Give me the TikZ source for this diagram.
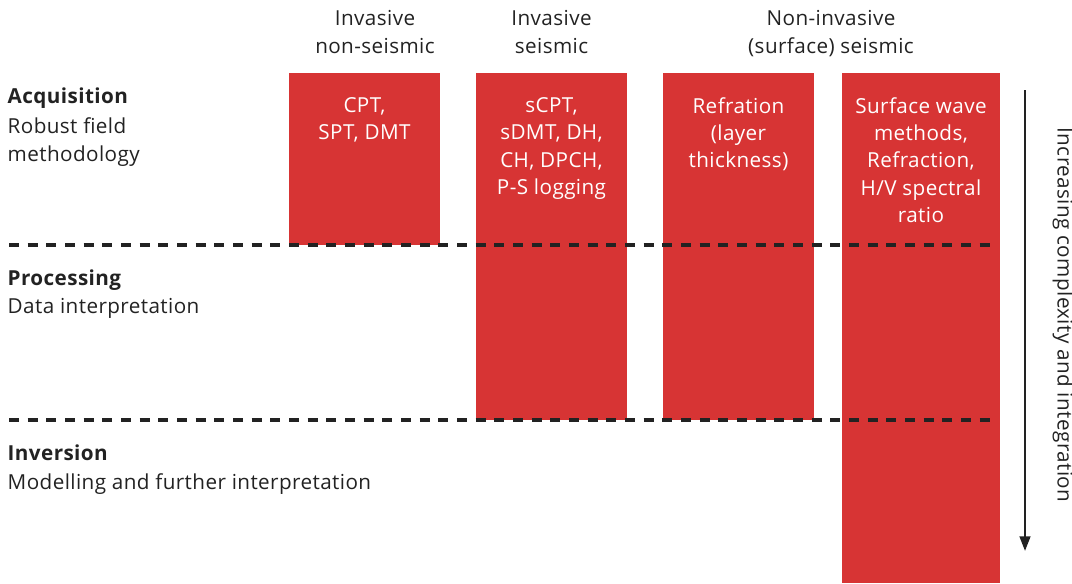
\documentclass[tikz,border=0pt]{standalone}
\usepackage{fontspec}
\setmainfont{Open Sans}[LetterSpace=2]
\usetikzlibrary{arrows.meta,positioning}
\definecolor{barred}{HTML}{D73434}
\definecolor{ink}{HTML}{222222}
\tikzset{
  bar/.style={fill=barred,draw=none},
  bartext/.style={text=white,align=center,font=\fontsize{15.5}{20.4}\selectfont,anchor=north},
  head/.style={text=ink,align=center,font=\fontsize{15.5}{20.4}\selectfont,anchor=north},
  stage/.style={text=ink,anchor=base west,font=\bfseries\fontsize{15.5}{20.4}\selectfont},
  note/.style={text=ink,anchor=north west,align=left,font=\fontsize{15.5}{20.8}\selectfont},
  divider/.style={ink,line width=2.5pt,dash pattern=on 7.5pt off 6.5pt}
}
\begin{document}
\begin{tikzpicture}[x=0.75pt,y=-0.75pt]
\useasboundingbox (0,0) rectangle (1072,583);
%bars
\fill[bar](289,73) rectangle (440,245);
\fill[bar](476,73) rectangle (627,420);
\fill[bar](663,73) rectangle (814,420);
\fill[bar](842,73) rectangle (1000,583);
%headers
\node[head](h1) at (375,6){Invasive\\non-seismic};
\node[head](h2) at (551.5,6){Invasive\\seismic};
\node[head](h3) at (831,6){Non-invasive\\(surface) seismic};
%bar labels
\node[bartext](b1) at (364.5,93){CPT,\\SPT, DMT};
\node[bartext](b2) at (551.5,93){sCPT,\\sDMT, DH,\\CH, DPCH,\\P-S logging};
\node[bartext](b3) at (738.5,93){Refration\\(layer\\thickness)};
\node[bartext](b4) at (921,93){Surface wave\\methods,\\Refraction,\\H/V spectral\\ratio};
%stages
\node[stage](acq) at (3,103){Acquisition};
\node[note](acqd) at (3,113){Robust field\\methodology};
\node[stage](pro) at (3,285){Processing};
\node[note](prod) at (3,294){Data interpretation};
\node[stage](inv) at (3,460){Inversion};
\node[note](invd) at (3,469){Modelling and further interpretation};
%demarcation lines
\coordinate(d1a) at (9,245); \coordinate(d1b) at (993,245);
\coordinate(d2a) at (9,420); \coordinate(d2b) at (993,420);
\draw[divider](d1a)--(d1b);
\draw[divider](d2a)--(d2b);
%arrow
\coordinate(top) at (1025,90);
\coordinate(bot) at (1025,551);
\draw[ink,line width=1.8pt,-{Triangle[length=11pt,width=8pt]}](top)--(bot);
\node[text=ink,rotate=-90,font=\fontsize{15.5}{20.4}\selectfont](lbl) at (1063,315){Increasing complexity and integration};
\end{tikzpicture}
\end{document}
